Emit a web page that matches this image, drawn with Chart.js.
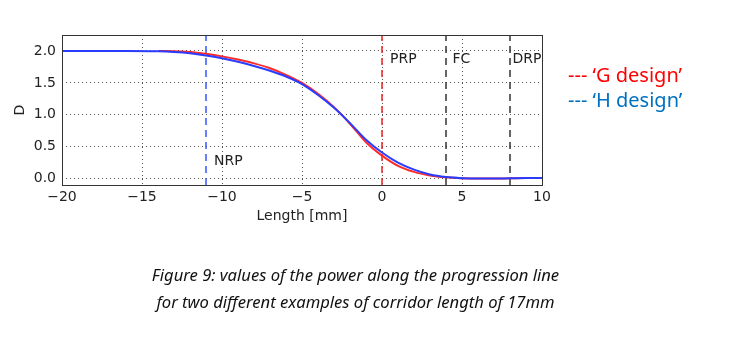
<!DOCTYPE html>
<html>
<head>
<meta charset="utf-8">
<script src="https://cdn.jsdelivr.net/npm/chart.js@4.4.1/dist/chart.umd.min.js"></script>
<style>
    html, body { margin: 0; padding: 0; background: #fff; }
    #wrap { position: relative; width: 729px; height: 341px; overflow: hidden; }
    #grafica { position: absolute; left: 0; top: 0; }
    .legendText { position: absolute; left: 568px; font-family: "Noto Sans", sans-serif; font-size: 20px; line-height: 26px; white-space: nowrap; }
    #caption { position: absolute; left: 0; width: 711px; top: 261px; text-align: center; font-family: "Noto Sans", sans-serif; font-style: italic; font-size: 16.6px; line-height: 27px; color: #111; }
</style>
</head>
<body>
<div id="wrap">
    <canvas id="grafica" width="729" height="341"></canvas>
    <div class="legendText" style="top:62px; color:#ff0000;">--- ‘G design’</div>
    <div class="legendText" style="top:87px; color:#0070c0;">--- ‘H design’</div>
    <div id="caption">Figure 9: values of the power along the progression line<br>for two different examples of corridor length of 17mm</div>
</div>
<script>
// curva H (azul)
const hLength = [-20, -18, -16, -14, -13, -12, -11, -10, -9, -8, -7, -6, -5, -4, -3, -2, -1, 0, 1, 2, 3, 4, 5, 6, 7, 8, 9, 10];
const hPower  = [2.0, 2.0, 2.0, 1.995, 1.985, 1.965, 1.93, 1.885, 1.83, 1.765, 1.69, 1.60, 1.48, 1.31, 1.11, 0.87, 0.61, 0.41, 0.25, 0.14, 0.065, 0.025, 0.007, 0.0, 0.0, 0.004, 0.008, 0.01];

// curva G (roja)
const gLength = [-14, -13, -12, -11, -10, -9, -8, -7, -6, -5, -4, -3, -2, -1, 0, 1, 2, 3, 4, 5, 6, 7, 8, 9, 10];
const gPower  = [2.0, 1.997, 1.985, 1.955, 1.915, 1.865, 1.805, 1.73, 1.625, 1.50, 1.33, 1.12, 0.86, 0.57, 0.36, 0.20, 0.105, 0.05, 0.02, 0.005, 0.0, 0.0, 0.004, 0.008, 0.01];

// lineas de referencia
const markerNames  = ['NRP', 'PRP', 'FC', 'DRP'];
const markerX      = [-11, 0, 4, 8];
const markerLabelX = [-10.5, 0.5, 4.4, 8.15];
const markerLabelY = [0.27, 1.87, 1.87, 1.87];
const markerColors = ['#3355ff', '#ee2222', '#333333', '#333333'];

const xTickValues = [-20, -15, -10, -5, 0, 5, 10];
const yTickValues = [0, 0.5, 1.0, 1.5, 2.0];
const xMin = -20, xMax = 10, yMin = -0.1, yMax = 2.25;

function toPoints(xs, ys) {
    return xs.map((x, i) => ({ x: x, y: ys[i] }));
}

function minusLabel(v) {
    return v < 0 ? '\u2212' + Math.abs(v) : String(v);
}

const markerDatasets = markerX.map((x, i) => ({
    label: markerNames[i],
    data: [{ x: x, y: yMin }, { x: x, y: yMax }],
    borderColor: markerColors[i],
    borderWidth: 1.5,
    borderDash: [7, 5],
    pointRadius: 0,
    order: 3
}));

const frameAndLabels = {
    id: 'frameAndLabels',
    afterDatasetsDraw(chart) {
        const { ctx, chartArea, scales } = chart;
        ctx.save();
        ctx.font = '14px "DejaVu Sans"';
        ctx.fillStyle = '#222';
        ctx.textAlign = 'left';
        ctx.textBaseline = 'middle';
        markerNames.forEach((name, i) => {
            ctx.fillText(name, scales.x.getPixelForValue(markerLabelX[i]), scales.y.getPixelForValue(markerLabelY[i]));
        });
        ctx.strokeStyle = '#333';
        ctx.lineWidth = 1;
        ctx.strokeRect(chartArea.left + 0.5, chartArea.top + 0.5, chartArea.right - chartArea.left, chartArea.bottom - chartArea.top);
        ctx.restore();
    }
};

const chart = new Chart(document.getElementById('grafica'), {
    type: 'line',
    data: {
        datasets: [
            {
                label: 'H design',
                data: toPoints(hLength, hPower),
                borderColor: '#2a3cff',
                borderWidth: 2,
                pointRadius: 0,
                cubicInterpolationMode: 'monotone',
                order: 1
            },
            {
                label: 'G design',
                data: toPoints(gLength, gPower),
                borderColor: '#ff2a2a',
                borderWidth: 2,
                pointRadius: 0,
                cubicInterpolationMode: 'monotone',
                order: 2
            },
            ...markerDatasets
        ]
    },
    options: {
        responsive: false,
        animation: false,
        layout: { padding: { left: 0, top: 35, right: 187, bottom: 112 } },
        plugins: {
            legend: { display: false },
            tooltip: { enabled: false }
        },
        scales: {
            x: {
                type: 'linear',
                min: xMin,
                max: xMax,
                afterBuildTicks: s => { s.ticks = xTickValues.map(v => ({ value: v })); },
                afterFit: s => { s.height = 44; },
                ticks: {
                    callback: v => minusLabel(v),
                    font: { family: 'DejaVu Sans', size: 14 },
                    color: '#222',
                    padding: 4,
                    maxRotation: 0
                },
                grid: { color: '#555', lineWidth: 1, drawTicks: false },
                border: { display: false, dash: [1, 3] },
                title: {
                    display: true,
                    text: 'Length [mm]',
                    font: { family: 'DejaVu Sans', size: 14 },
                    color: '#222'
                }
            },
            y: {
                type: 'linear',
                min: yMin,
                max: yMax,
                afterBuildTicks: s => { s.ticks = yTickValues.map(v => ({ value: v })); },
                afterFit: s => { s.width = 62; },
                ticks: {
                    callback: v => v.toFixed(1),
                    font: { family: 'DejaVu Sans', size: 14 },
                    color: '#222',
                    padding: 6
                },
                grid: { color: '#555', lineWidth: 1, drawTicks: false },
                border: { display: false, dash: [1, 3] },
                title: {
                    display: true,
                    text: 'D',
                    font: { family: 'DejaVu Sans', size: 14 },
                    color: '#222',
                    padding: { top: 12, bottom: 0 }
                }
            }
        }
    },
    plugins: [frameAndLabels]
});
</script>
</body>
</html>
